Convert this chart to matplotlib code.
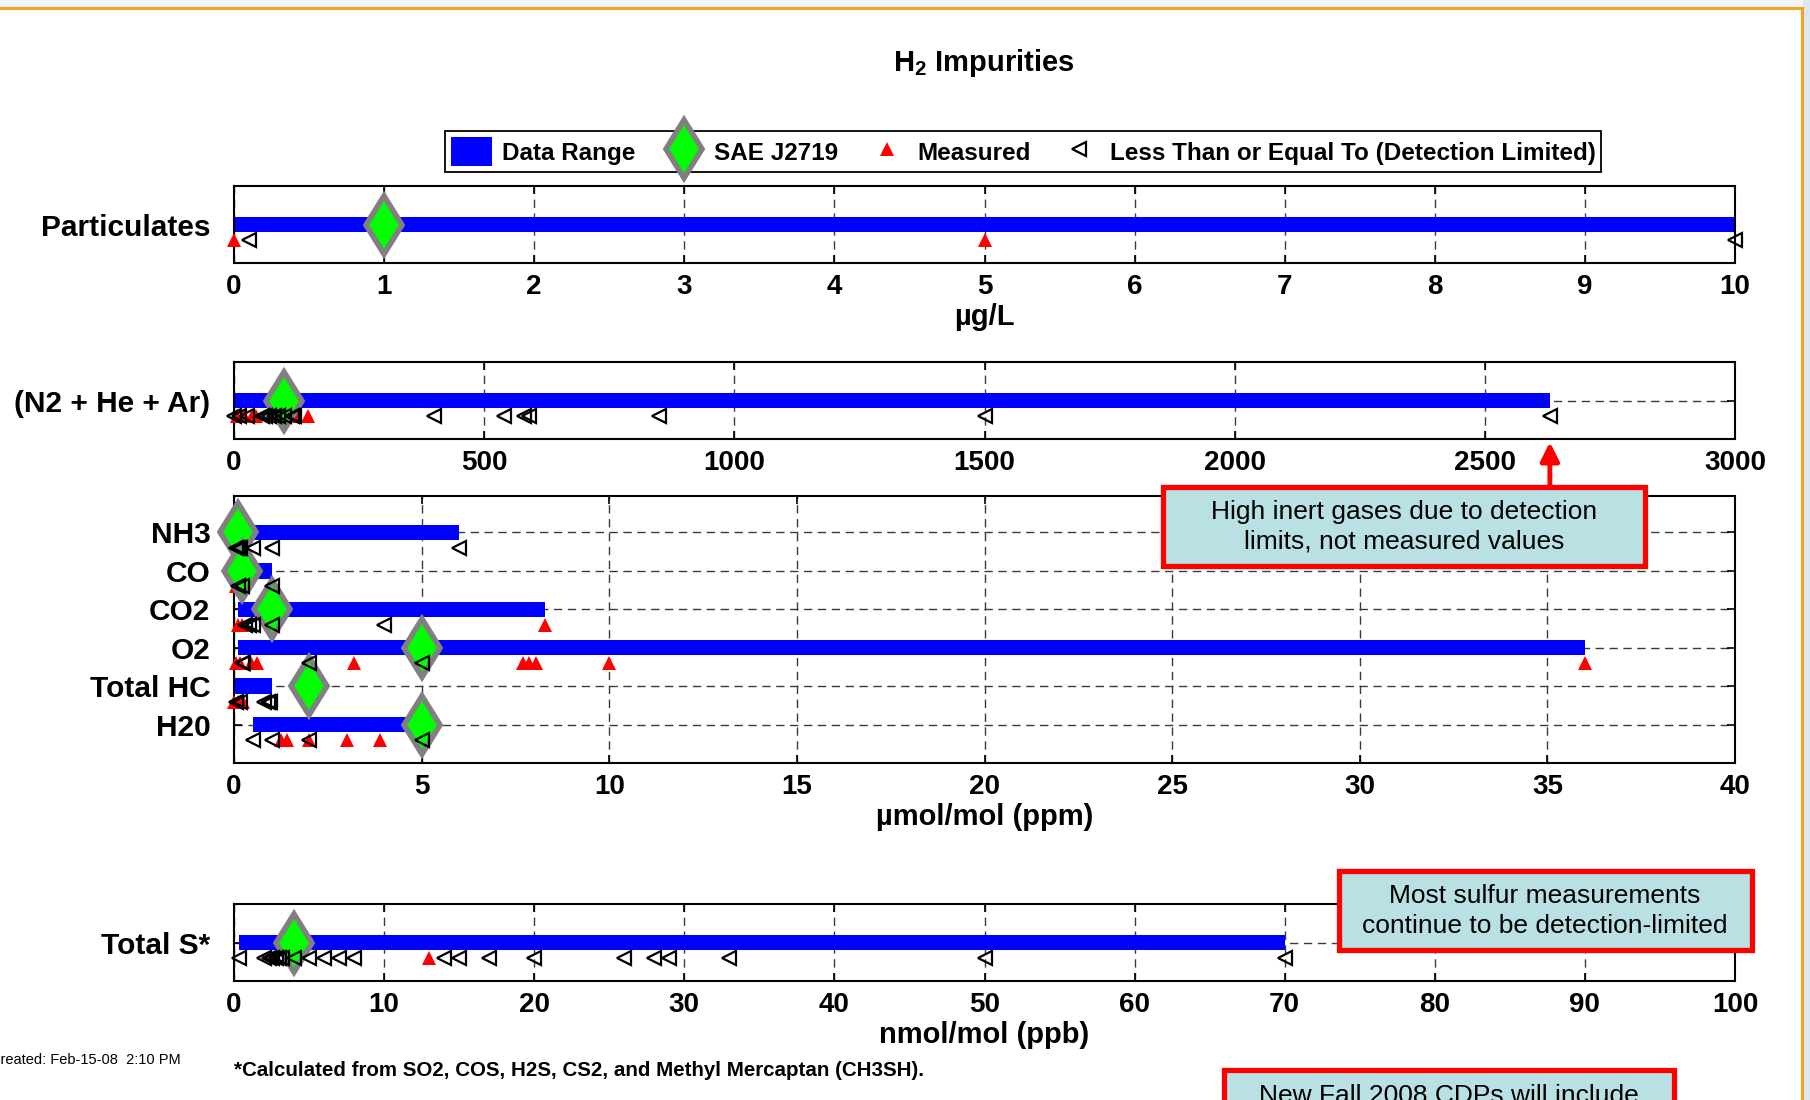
import matplotlib
matplotlib.use("Agg")
import matplotlib.pyplot as plt
from matplotlib.lines import Line2D
from matplotlib.patches import Rectangle, Patch
import numpy as np

plt.rcParams['font.family'] = ['Liberation Sans', 'DejaVu Sans']
plt.rcParams['font.weight'] = 'bold'
plt.rcParams['mathtext.fontset'] = 'custom'
plt.rcParams['mathtext.rm'] = 'Liberation Sans:bold'
plt.rcParams['mathtext.default'] = 'rm'

# ---------------- data ----------------
part_rows = ["Particulates"]
part_lo = [0.0]
part_hi = [10.0]
part_sae = [1.0]
part_measured = [[0.0, 5.0]]
part_lte = [[0.1, 10.0]]
part_ticks = [0, 1, 2, 3, 4, 5, 6, 7, 8, 9, 10]

inert_rows = ["(N2 + He + Ar)"]
inert_lo = [0.0]
inert_hi = [2630.0]
inert_sae = [100.0]
inert_measured = [[5, 20, 35, 43, 110, 125, 148]]
inert_lte = [[0, 10, 25, 55, 62, 70, 80, 88, 100, 115, 120, 400, 540, 580, 590, 850, 1500, 2630]]
inert_ticks = [0, 500, 1000, 1500, 2000, 2500, 3000]

gas_rows = ["NH3", "CO", "CO2", "O2", "Total HC", "H20"]
gas_lo = [0.0, 0.0, 0.1, 0.1, 0.0, 0.5]
gas_hi = [6.0, 1.0, 8.3, 36.0, 1.0, 5.0]
gas_sae = [0.1, 0.2, 1.0, 5.0, 2.0, 5.0]
gas_measured = [
    [],
    [0.05, 0.1],
    [0.1, 0.2, 8.3],
    [0.05, 0.15, 0.45, 0.6, 3.2, 7.7, 7.85, 8.05, 10.0, 36.0],
    [0.0, 0.1, 0.25],
    [1.25, 1.4, 2.0, 3.0, 3.9],
]
gas_lte = [
    [0.05, 0.1, 0.15, 0.5, 1.0, 6.0],
    [0.1, 0.2, 1.0],
    [0.3, 0.4, 0.5, 1.0, 4.0],
    [0.2, 0.25, 2.0, 5.0],
    [0.05, 0.15, 0.8, 0.9, 0.95],
    [0.5, 1.0, 2.0, 5.0],
]
gas_ticks = [0, 5, 10, 15, 20, 25, 30, 35, 40]

sulf_rows = ["Total S*"]
sulf_lo = [0.3]
sulf_hi = [70.0]
sulf_sae = [4.0]
sulf_measured = [[13.0]]
sulf_lte = [[0.3, 2.0, 2.3, 2.5, 2.8, 3.0, 3.2, 4.0, 5.0, 6.0, 7.0, 8.0, 14.0, 15.0,
             17.0, 20.0, 26.0, 28.0, 29.0, 33.0, 50.0, 70.0]]
sulf_ticks = [0, 10, 20, 30, 40, 50, 60, 70, 80, 90, 100]

legend_labels = ["Data Range", "SAE J2719", "Measured",
                 "Less Than or Equal To (Detection Limited)"]

# ---------------- style ----------------
BLUE = '#0000ff'
GREEN = '#00ff00'
GREY = '#808080'
RED = '#ff0000'
DASH = (0, (6, 4))

W, H = 1810, 1100
fig = plt.figure(figsize=(W / 100, H / 100), dpi=100)
fig.patch.set_facecolor('white')

def fx(px):
    return px / W

def fy(py):
    return 1 - py / H

LEFT, RIGHT = 234, 1735

def make_axes(top, bottom):
    return fig.add_axes([fx(LEFT), fy(bottom), fx(RIGHT) - fx(LEFT), fy(top) - fy(bottom)])

def draw_panel(ax, rows, lo, hi, sae, measured, lte, ticks, xlabel, ylim):
    n = len(rows)
    ypos = np.arange(n, 0, -1)
    ax.set_xlim(ticks[0], ticks[-1])
    ax.set_ylim(*ylim)
    ax.set_axisbelow(True)
    ax.grid(True, linestyle=DASH, color='#3a3a3a', linewidth=1.0)
    for y, a, b, s, m, l in zip(ypos, lo, hi, sae, measured, lte):
        ax.barh(y, b - a, left=a, height=0.4, color=BLUE, zorder=2)
        if len(m):
            ax.plot(m, [y - 0.4] * len(m), linestyle='none', marker='^', color=RED,
                    markersize=10, markeredgewidth=0, clip_on=False, zorder=4)
        ax.plot([s], [y], linestyle='none', marker='d', markerfacecolor=GREEN,
                markeredgecolor=GREY, markersize=30, markeredgewidth=4,
                clip_on=False, zorder=5)
        if len(l):
            ax.plot(l, [y - 0.4] * len(l), linestyle='none', marker='<',
                    markerfacecolor='none', markeredgecolor='black',
                    markersize=10, markeredgewidth=1.6, clip_on=False, zorder=6)
    ax.set_xticks(ticks)
    ax.set_xticklabels([str(t) for t in ticks])
    ax.set_yticks(ypos)
    ax.set_yticklabels(rows)
    ax.tick_params(axis='x', direction='in', length=6, width=1.2, top=True,
                   labelsize=20, pad=8)
    ax.tick_params(axis='y', direction='in', length=6, width=1.2, right=True,
                   labelsize=21.5, pad=17)
    for sp in ax.spines.values():
        sp.set_linewidth(1.5)
    if xlabel:
        ax.set_xlabel(xlabel, fontsize=21, fontweight='bold', labelpad=2)

ax1 = make_axes(186, 263)
draw_panel(ax1, part_rows, part_lo, part_hi, part_sae, part_measured, part_lte,
           part_ticks, "µg/L", (0, 2))

ax2 = make_axes(362, 439)
draw_panel(ax2, inert_rows, inert_lo, inert_hi, inert_sae, inert_measured, inert_lte,
           inert_ticks, None, (0, 2))

ax3 = make_axes(496, 763)
draw_panel(ax3, gas_rows, gas_lo, gas_hi, gas_sae, gas_measured, gas_lte,
           gas_ticks, "µmol/mol (ppm)", (0, 6.95))

ax4 = make_axes(904, 981)
draw_panel(ax4, sulf_rows, sulf_lo, sulf_hi, sulf_sae, sulf_measured, sulf_lte,
           sulf_ticks, "nmol/mol (ppb)", (0, 2))

# title
fig.text(fx(984), fy(63), r"$\mathrm{H}_\mathrm{2}$ Impurities", ha='center', va='center',
         fontsize=21, fontweight='bold')

# legend
handles = [
    Patch(facecolor=BLUE, edgecolor='none'),
    Line2D([], [], linestyle='none', marker='d', markerfacecolor=GREEN,
           markeredgecolor=GREY, markersize=30, markeredgewidth=4),
    Line2D([], [], linestyle='none', marker='^', color=RED, markersize=10,
           markeredgewidth=0),
    Line2D([], [], linestyle='none', marker='<', markerfacecolor='none',
           markeredgecolor='black', markersize=10, markeredgewidth=1.6),
]
leg = fig.legend(handles, legend_labels, loc='center',
                 bbox_to_anchor=(fx(1023), fy(151.5)), ncol=4, fontsize=17.5,
                 frameon=True, fancybox=False, edgecolor='black', framealpha=1,
                 borderpad=0.25, columnspacing=1.15, handletextpad=0.4,
                 handlelength=1.7, handleheight=1.4, borderaxespad=0)
leg.get_frame().set_linewidth(1.3)
for t in leg.get_texts():
    t.set_fontweight('bold')

# callout boxes
def callout(x0, y0, x1, y1, text, tx, ty, va='center'):
    fig.add_artist(Rectangle((fx(x0), fy(y1)), fx(x1) - fx(x0), fy(y0) - fy(y1),
                             transform=fig.transFigure, facecolor='#b9e0e3',
                             edgecolor=RED, linewidth=3.8, zorder=10, clip_on=False))
    fig.text(fx(tx), fy(ty), text, ha='center', va=va, fontsize=19,
             fontweight='normal', color='black', zorder=11, linespacing=1.3)

callout(1163, 487, 1645, 566, "High inert gases due to detection\nlimits, not measured values",
        1404, 527)
callout(1339, 871, 1752, 950, "Most sulfur measurements\ncontinue to be detection-limited",
        1545, 911)
callout(1224, 1070, 1674, 1160, "New Fall 2008 CDPs will include", 1449, 1084, va='top')

# arrow from callout to the detection limit on the inert axis
ax2.annotate('', xy=(inert_hi[0], -0.04), xycoords=('data', 'axes fraction'),
             xytext=(inert_hi[0], fy(487)), textcoords=('data', 'figure fraction'),
             arrowprops=dict(arrowstyle='-|>', color=RED, lw=3.5, mutation_scale=28,
                             shrinkA=0, shrinkB=0),
             annotation_clip=False, zorder=12)

# footnotes
fig.text(fx(234), fy(1071), "*Calculated from SO2, COS, H2S, CS2, and Methyl Mercaptan (CH3SH).",
         ha='left', va='center', fontsize=14.8, fontweight='bold')
fig.text(fx(-10), fy(1060), "Created: Feb-15-08  2:10 PM", ha='left', va='center',
         fontsize=10.5, fontweight='normal')

# slide frame
fig.add_artist(Rectangle((0, fy(7)), 1, 1 - fy(7), transform=fig.transFigure,
                         facecolor='#f3f5f9', edgecolor='none', zorder=1))
fig.add_artist(Rectangle((fx(1803), 0), 1 - fx(1803), 1, transform=fig.transFigure,
                         facecolor='#dde7f2', edgecolor='none', zorder=1))
fig.add_artist(Line2D([0, fx(1802)], [fy(8), fy(8)], transform=fig.transFigure,
                      color='#f5a31a', linewidth=2.2, zorder=2))
fig.add_artist(Line2D([fx(1802), fx(1802)], [0, fy(8)], transform=fig.transFigure,
                      color='#f5a31a', linewidth=2.2, zorder=2))

fig.savefig("out.png", dpi=100)
